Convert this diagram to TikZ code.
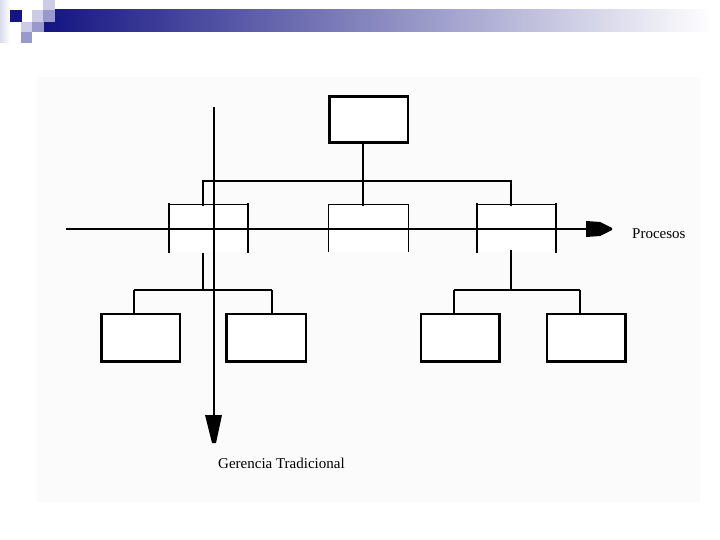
\documentclass[tikz,border=0pt]{standalone}
\usepackage{fontspec}
\setmainfont{Liberation Serif}
\usetikzlibrary{calc}
\definecolor{navy}{RGB}{20,20,130}
\definecolor{midgray}{RGB}{155,155,178}
\definecolor{lav}{RGB}{204,204,230}
\definecolor{lavmid}{RGB}{153,153,204}
\definecolor{panel}{RGB}{251,251,251}
\tikzset{
  boxc/.style={draw=black, line width=2.5pt, fill=white, rectangle, inner sep=0pt, minimum width=78.5pt, minimum height=46pt},
  openbox/.style={fill=white, rectangle, inner sep=0pt, minimum width=79pt, minimum height=47pt},
  thickln/.style={line width=2.5pt, line cap=rect},
  medln/.style={line width=2pt},
  thinln/.style={line width=1.2pt},
  axisln/.style={line width=1.2pt},
  lbl/.style={font=\fontsize{15}{17}\selectfont, inner sep=0pt}
}
\begin{document}
\begin{tikzpicture}[x=1pt,y=-1pt]
\useasboundingbox (0,0) rectangle (720,540);
% header decoration
\shade[left color=navy, middle color=midgray, right color=white] (44,10) rectangle (712,32);
\shade[left color=lav!70, right color=white] (0,0) rectangle (10,43);
\fill[lav] (43,0) rectangle (55,10);
\fill[navy] (10,10) rectangle (22,22);
\fill[lav] (32,10) rectangle (43,22);
\fill[lavmid] (43,10) rectangle (55,22);
\fill[lav] (21,22) rectangle (32,32);
\fill[lavmid] (32,22) rectangle (44,32);
\fill[lavmid] (21,32) rectangle (32,43);
% panel
\fill[panel] (37,77) rectangle (700,502);

% boxes
\node[boxc] (top) at (368.5,119.5) {};
\node[openbox] (m1) at (208.5,228) {};
\node[openbox] (m2) at (368.5,228) {};
\node[openbox] (m3) at (516.5,228) {};
\node[boxc, minimum height=47.5pt] (b1) at (140.5,337.5) {};
\node[boxc, minimum height=47.5pt, minimum width=79.5pt] (b2) at (266,337.5) {};
\node[boxc, minimum height=47.5pt] (b3) at (460,337.5) {};
\node[boxc, minimum height=47.5pt] (b4) at (586,337.5) {};

% open boxes: thin tops, thick or thin sides
\draw[thinln] (m1.north west) -- (m1.north east);
\draw[thickln] (m1.north west) -- (m1.south west);
\draw[thickln] (m1.north east) -- (m1.south east);
\draw[thinln] (m2.south west) |- (m2.north east) -- (m2.south east);
\draw[thinln] (m3.north west) -- (m3.north east);
\draw[thickln] (m3.north west) -- (m3.south west);
\draw[thickln] (m3.north east) -- (m3.south east);

% upper connectors
\coordinate (j1) at (203,181);
\coordinate (j2) at (363,181);
\coordinate (j3) at (511,181);
\draw[thickln] (j2 |- top.south) -- (j2);
\draw[thickln] (j1) -- (j3);
\draw[thickln] (j1) -- (j1 |- m1.north);
\draw[thickln] (j2) -- (j2 |- m2.north);
\draw[thickln] (j3) -- (j3 |- m3.north);

% lower connectors, left group
\coordinate (s1) at (203,254);
\coordinate (l1) at (134,290);
\coordinate (l2) at (272,290);
\draw[thickln] (s1) -- (s1 |- l1);
\draw[medln] (l1) -- (l2);
\draw[medln] (l1) -- (l1 |- b1.north);
\draw[medln] (l2) -- (l2 |- b2.north);

% lower connectors, right group
\coordinate (s2) at (511,250);
\coordinate (r1) at (454,290);
\coordinate (r2) at (580,290);
\draw[medln] (s2) -- (s2 |- r1);
\draw[medln] (r1) -- (r2);
\draw[medln] (r1) -- (r1 |- b3.north);
\draw[medln] (r2) -- (r2 |- b4.north);

% axes
\coordinate (hs) at (66,229);
\coordinate (he) at (587,229);
\coordinate (vs) at (214,107);
\coordinate (ve) at (214,415);
\draw[axisln] (hs) -- (he);
\fill[shift={(he)}] (-1,-8) -- (13,-7) -- (25,-1) -- (25,1) -- (13,7) -- (-1,8) -- cycle;
\draw[axisln] (vs) -- (ve);
\fill[shift={(ve)}] (-9,0) -- (8,0) -- (2,28) -- (-2,28) -- cycle;

% labels
\node[lbl, anchor=base west] (tp) at (632,238) {Procesos};
\node[lbl, anchor=base west] (tg) at (218,468) {Gerencia Tradicional};
\end{tikzpicture}
\end{document}
